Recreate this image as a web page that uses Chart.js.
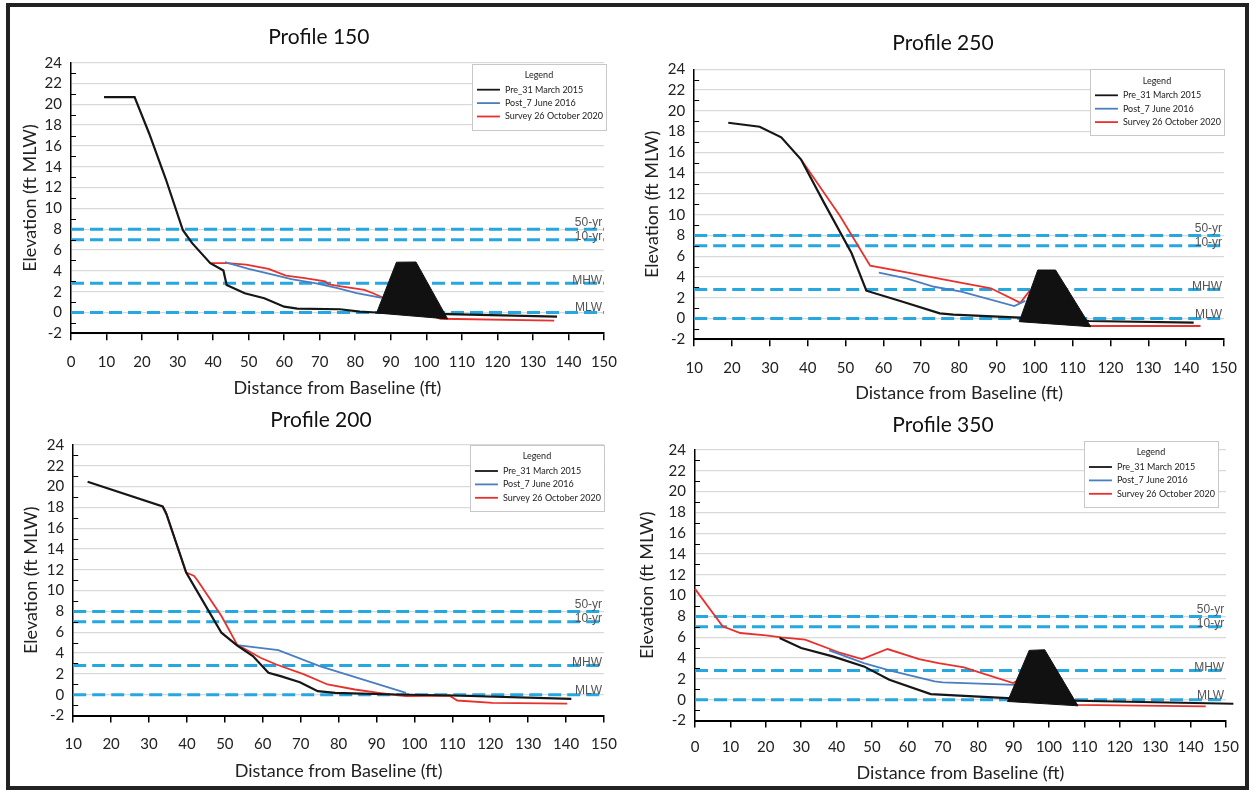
<!DOCTYPE html>
<html>
<head>
<meta charset="utf-8">
<script src="https://cdn.jsdelivr.net/npm/chart.js@4.4.1/dist/chart.umd.min.js"></script>
<style>
  html, body { margin: 0; padding: 0; background: #fff; }
  body { width: 1254px; height: 791px; position: relative; overflow: hidden; }
  #frame { position: absolute; left: 6px; top: 3px; width: 1243px; height: 787px; border: 4px solid #222; box-sizing: border-box; }
  canvas { position: absolute; }
</style>
</head>
<body>
<div id="frame"></div>
<canvas id="p150" width="620" height="400" style="left:10px;top:8px"></canvas>
<canvas id="p250" width="623" height="400" style="left:627px;top:8px"></canvas>
<canvas id="p200" width="620" height="380" style="left:10px;top:405px"></canvas>
<canvas id="p350" width="623" height="380" style="left:627px;top:405px"></canvas>
<script>
// series names and tick labels
const seriesNames = ['Pre_31 March 2015', 'Post_7 June 2016', 'Survey 26 October 2020'];
const elevationTicks = [-2, 0, 2, 4, 6, 8, 10, 12, 14, 16, 18, 20, 22, 24];
const distanceTicksFrom0 = [0, 10, 20, 30, 40, 50, 60, 70, 80, 90, 100, 110, 120, 130, 140, 150];
const distanceTicksFrom10 = [10, 20, 30, 40, 50, 60, 70, 80, 90, 100, 110, 120, 130, 140, 150];

// design water levels (ft MLW)
const levelNames = ['50-yr', '10-yr', 'MHW', 'MLW'];
const levelValues = [8, 7, 2.8, 0];

// Profile 150  [distance, elevation]
const p150Pre = [[9.3, 20.7], [17.9, 20.7], [22, 17.2], [26.7, 12.8], [31.5, 7.9], [34.1, 6.66], [39.2, 4.74], [42.9, 4.03], [43.8, 2.65], [48.9, 1.85], [54.4, 1.37], [60, 0.56], [63.7, 0.37], [75.7, 0.31], [81.3, 0.08], [86, 0.0], [106, -0.15], [136.8, -0.4]];
const p150Post = [[43.3, 4.83], [50, 4.2], [58, 3.55], [62, 3.2], [69, 2.8], [75, 2.35], [80.4, 1.85], [87.5, 1.4]];
const p150Survey = [[39.5, 4.74], [44, 4.74], [49.3, 4.6], [55.6, 4.18], [60.5, 3.55], [65.8, 3.3], [71.5, 3.0], [72.6, 2.7], [76, 2.5], [82.6, 2.17], [85, 1.85], [88.2, 1.37], [104, -0.6], [136, -0.79]];
const p150Breakwater = [[86, -0.05], [91.6, 4.83], [97.1, 4.85], [106, -0.62], [86, -0.05]];

// Profile 250
const p250Pre = [[19, 18.85], [27.3, 18.47], [33, 17.45], [38.2, 15.33], [44.4, 11.09], [51.6, 6.28], [55.5, 2.68], [65.1, 1.62], [74.9, 0.5], [78.5, 0.37], [96.2, 0.08], [114.3, -0.24], [142, -0.4]];
const p250Post = [[58.8, 4.41], [66.1, 3.87], [73.4, 3.06], [80.6, 2.58], [94.6, 1.2], [97.5, 1.7]];
const p250Survey = [[38.2, 15.33], [48.5, 9.9], [56.5, 5.09], [65.1, 4.51], [74.4, 3.87], [88.4, 2.91], [96.2, 1.52], [98.5, 2.6], [113.3, -0.72], [143.8, -0.72]];
const p250Breakwater = [[95.9, -0.3], [100.8, 4.67], [105.5, 4.67], [114.8, -0.79], [95.9, -0.3]];

// Profile 200
const p200Pre = [[13.8, 20.46], [33.6, 18.09], [34.6, 17.35], [39.8, 11.74], [42.9, 9.81], [49.1, 5.96], [53.2, 4.74], [57.4, 3.71], [61.5, 2.1], [64.7, 1.78], [69.8, 1.2], [71.9, 0.82], [74.5, 0.34], [79.1, 0.18], [94.7, 0.02], [110.3, -0.08], [141.4, -0.4]];
const p200Post = [[53.8, 4.74], [64.1, 4.29], [75, 2.75], [97.8, 0.18]];
const p200Survey = [[33.6, 18.09], [34.4, 17.6], [39.8, 11.74], [40.3, 11.67], [41.9, 11.41], [42.9, 10.93], [49.1, 7.56], [53.2, 4.83], [59.4, 3.55], [63.6, 2.9], [70.9, 1.95], [77.1, 0.98], [84.3, 0.5], [90.6, 0.18], [97.8, -0.14], [109.2, -0.08], [111.3, -0.56], [120.6, -0.78], [140.3, -0.85]];

// Profile 350
const p350Pre = [[23.9, 5.93], [30, 4.97], [38.9, 4.16], [47.7, 3.2], [54.9, 1.92], [66.6, 0.54], [78.8, 0.31], [88.3, 0.15], [107.7, -0.1], [152.1, -0.39]];
const p350Post = [[37.9, 4.74], [47.7, 3.52], [54.9, 2.81], [67.7, 1.75], [70, 1.66], [90.5, 1.43]];
const p350Survey = [[0, 10.65], [7.8, 7.05], [12.8, 6.41], [20, 6.18], [24.4, 5.99], [31.1, 5.77], [41.1, 4.49], [47.2, 3.91], [54.4, 4.87], [63.3, 3.91], [68.8, 3.52], [76, 3.1], [81, 2.56], [89.9, 1.6], [92, 2], [107.7, -0.49], [144.3, -0.65]];
const p350Breakwater = [[88.3, -0.17], [94.4, 4.74], [98.8, 4.8], [108.2, -0.59], [88.3, -0.17]];

const pts = arr => arr.map(p => ({ x: p[0], y: p[1] }));

const BLACK = '#161616';
const BLUE = '#4a7ec0';
const RED = '#e8302c';
const DASH = '#27a7df';

// draws the panel title, minor ticks, level labels and boxed legend
const profileDecor = {
  id: 'profileDecor',
  afterDraw(chart, args, o) {
    const { ctx, chartArea: a, scales: { x, y } } = chart;
    ctx.save();

    // short inside ticks on odd elevations
    ctx.strokeStyle = '#000';
    ctx.lineWidth = 1;
    for (let v = y.min + 1; v < y.max; v += 2) {
      const py = Math.round(y.getPixelForValue(v)) + 0.5;
      ctx.beginPath();
      ctx.moveTo(a.left, py);
      ctx.lineTo(a.left + 5, py);
      ctx.stroke();
    }

    // level labels at the right end of the dashed lines
    const nudge = [-3, 0, 0.5, -1];
    ctx.font = '12px "Liberation Sans", Arial, sans-serif';
    ctx.fillStyle = '#555';
    ctx.textAlign = 'right';
    ctx.textBaseline = 'alphabetic';
    levelNames.forEach((name, i) => {
      ctx.fillText(name, x.getPixelForValue(149.5), y.getPixelForValue(levelValues[i]) + nudge[i]);
    });

    // title
    ctx.font = '21px Lato, "Open Sans", sans-serif';
    ctx.fillStyle = '#111';
    ctx.textAlign = 'center';
    ctx.textBaseline = 'middle';
    ctx.fillText(o.title, o.titleX, o.titleY);

    // legend box
    const bw = 134, bh = 66;
    const bx = a.right + o.legendDx - bw;
    const by = a.top + o.legendDy;
    ctx.fillStyle = '#fff';
    ctx.fillRect(bx, by, bw, bh);
    ctx.strokeStyle = '#c8c8c8';
    ctx.lineWidth = 1;
    ctx.strokeRect(Math.round(bx) + 0.5, Math.round(by) + 0.5, bw, bh);
    ctx.font = '9px Lato, "Open Sans", sans-serif';
    ctx.fillStyle = '#222';
    ctx.fillText('Legend', bx + bw / 2, by + 11.5);
    ctx.textAlign = 'left';
    chart.data.datasets.slice(0, 3).forEach((ds, i) => {
      const ry = by + 26 + i * 13.4;
      ctx.strokeStyle = ds.borderColor;
      ctx.lineWidth = 1.8;
      ctx.beginPath();
      ctx.moveTo(bx + 5, ry);
      ctx.lineTo(bx + 28, ry);
      ctx.stroke();
      ctx.fillStyle = '#222';
      ctx.fillText(ds.label, bx + 33, ry);
    });
    ctx.restore();
  }
};

function buildProfile(cfg) {
  const xTicks = cfg.xTicks;
  const datasets = [
    { label: seriesNames[0], data: pts(cfg.pre), borderColor: BLACK, borderWidth: 2.2, order: 1 },
    { label: seriesNames[1], data: pts(cfg.post), borderColor: BLUE, borderWidth: 1.8, order: 2 },
    { label: seriesNames[2], data: pts(cfg.survey), borderColor: RED, borderWidth: 1.8, order: 3 }
  ];
  if (cfg.breakwater) {
    datasets.push({ label: 'Breakwater', data: pts(cfg.breakwater), borderColor: '#111', backgroundColor: '#111', borderWidth: 1, fill: 'shape', order: 0 });
  }
  levelValues.forEach(v => {
    datasets.push({
      label: 'level',
      data: [{ x: xTicks[0], y: v }, { x: xTicks[xTicks.length - 1], y: v }],
      borderColor: DASH, borderWidth: 3, borderDash: [13, 6], order: 5
    });
  });
  datasets.forEach(ds => { ds.pointRadius = 0; ds.tension = 0; ds.clip = false; if (!ds.fill) ds.fill = false; });

  const tickFont = { family: 'Lato, "Open Sans", sans-serif', size: 15 };
  const titleFont = { family: 'Lato, "Open Sans", sans-serif', size: 18 };

  new Chart(document.getElementById(cfg.id), {
    type: 'line',
    data: { datasets },
    plugins: [profileDecor],
    options: {
      responsive: false,
      animation: false,
      events: [],
      layout: { padding: { left: 0, top: cfg.padTop, right: cfg.padRight, bottom: 0 } },
      plugins: {
        legend: { display: false },
        title: { display: false },
        tooltip: { enabled: false },
        profileDecor: { title: cfg.title, titleX: cfg.titleX, titleY: cfg.titleY, legendDx: cfg.legendDx, legendDy: cfg.legendDy }
      },
      scales: {
        x: {
          type: 'linear',
          min: xTicks[0],
          max: xTicks[xTicks.length - 1],
          ticks: { stepSize: 10, autoSkip: false, maxRotation: 0, padding: cfg.xTickPad, font: tickFont, color: '#222' },
          grid: { drawOnChartArea: false, color: '#000', tickLength: 7, lineWidth: 1.5 },
          border: { color: '#000', width: 2 },
          title: { display: true, text: 'Distance from Baseline (ft)', font: titleFont, color: '#222', padding: { top: 0, bottom: cfg.xTitlePad } },
          afterFit: s => { s.height = cfg.xh; }
        },
        y: {
          min: elevationTicks[0],
          max: elevationTicks[elevationTicks.length - 1],
          ticks: { stepSize: 1, autoSkip: false, padding: 9, font: tickFont, color: '#222',
            callback: v => (v % 2 === 0 ? String(v) : '') },
          grid: { drawTicks: false, lineWidth: 1.3,
            color: c => (c.tick && c.tick.value % 2 === 0 ? '#d9d9d9' : 'rgba(0,0,0,0)') },
          border: { color: '#000', width: 1.5 },
          title: { display: true, text: 'Elevation (ft MLW)', font: titleFont, color: '#222', padding: { top: cfg.yTitlePad, bottom: 0 } },
          afterFit: s => { s.width = cfg.yw; }
        }
      }
    }
  });
}

buildProfile({ id: 'p150', title: 'Profile 150', xTicks: distanceTicksFrom0, pre: p150Pre, post: p150Post, survey: p150Survey, breakwater: p150Breakwater,
  yw: 61, xh: 74.7, padTop: 54.7, padRight: 19, yTitlePad: 9.2, xTickPad: 13, xTitlePad: 9.2, titleX: 308.8, titleY: 29.3, legendDx: 2, legendDy: 1 });
buildProfile({ id: 'p250', title: 'Profile 250', xTicks: distanceTicksFrom10, pre: p250Pre, post: p250Post, survey: p250Survey, breakwater: p250Breakwater,
  yw: 67.2, xh: 68.7, padTop: 61.3, padRight: 15, yTitlePad: 14.2, xTickPad: 13, xTitlePad: 4.2, titleX: 316, titleY: 35.3, legendDx: 0, legendDy: 0 });
buildProfile({ id: 'p200', title: 'Profile 200', xTicks: distanceTicksFrom10, pre: p200Pre, post: p200Post, survey: p200Survey, breakwater: null,
  yw: 63.2, xh: 69.5, padTop: 40, padRight: 16.8, yTitlePad: 10.2, xTickPad: 13, xTitlePad: 3.2, titleX: 311, titleY: 15, legendDx: 0, legendDy: 0 });
buildProfile({ id: 'p350', title: 'Profile 350', xTicks: distanceTicksFrom0, pre: p350Pre, post: p350Post, survey: p350Survey, breakwater: p350Breakwater,
  yw: 68, xh: 64.5, padTop: 45, padRight: 14.6, yTitlePad: 9.2, xTickPad: 11, xTitlePad: 1.2, titleX: 316, titleY: 20, legendDx: -8, legendDy: -9 });
</script>
</body>
</html>
